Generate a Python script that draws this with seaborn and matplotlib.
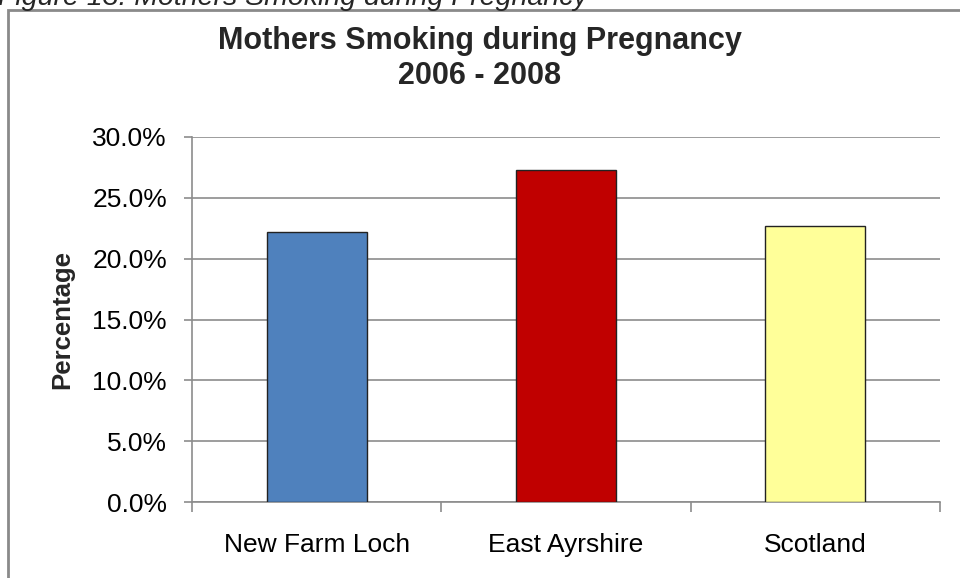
import matplotlib
matplotlib.use("Agg")
import matplotlib.pyplot as plt
import matplotlib.patches as mpatches
import seaborn as sns
import pandas as pd
from matplotlib.ticker import FuncFormatter, FixedLocator

# Data
categories = ["New Farm Loch", "East Ayrshire", "Scotland"]
values = [22.2, 27.3, 22.7]
bar_colors = ["#4F81BD", "#C00000", "#FFFF99"]
title_text = "Mothers Smoking during Pregnancy\n2006 - 2008"
caption_text = "Figure 13: Mothers Smoking during Pregnancy"
y_label = "Percentage"
y_ticks = [0, 5, 10, 15, 20, 25, 30]

sns.set_theme(style="white")
plt.rcParams['font.family'] = ['Liberation Sans', 'DejaVu Sans']

df = pd.DataFrame({"cat": categories, "val": values})

fig = plt.figure(figsize=(9.6, 5.78), dpi=100)
ax = fig.add_axes([192/960, 1-502/578, (940-192)/960, (502-137)/578])

sns.barplot(data=df, x="cat", y="val", hue="cat", palette=bar_colors,
            legend=False, width=0.4, edgecolor="#222222", linewidth=1.0,
            saturation=1, ax=ax, zorder=3)

ax.set_ylim(0, 30)
ax.set_xlim(-0.5, 2.5)
ax.set_yticks(y_ticks)
ax.yaxis.set_major_formatter(FuncFormatter(lambda v, p: f"{v:.1f}%"))
ax.grid(axis="y", color="#8c8c8c", linewidth=1.2, zorder=0)
ax.set_axisbelow(True)

for s in ["top", "right"]:
    ax.spines[s].set_visible(False)
for s in ["left", "bottom"]:
    ax.spines[s].set_color("#8c8c8c")
    ax.spines[s].set_linewidth(1.2)

ax.tick_params(axis="y", which="major", length=6, width=1.2, color="#8c8c8c",
               labelsize=19, pad=12, left=True, labelcolor="black")
ax.tick_params(axis="x", which="major", length=0, labelsize=19, pad=22,
               labelcolor="black")
ax.xaxis.set_minor_locator(FixedLocator([-0.5, 0.5, 1.5, 2.5]))
ax.tick_params(axis="x", which="minor", length=7, width=1.2, color="#8c8c8c",
               bottom=True)

ax.set_xlabel("")
ax.set_ylabel(y_label, fontsize=18.5, fontweight="bold")
ax.yaxis.set_label_coords(-0.158, 0.5)

fig.text(0.5, 1-26/578, title_text, ha="center", va="top",
         fontsize=22, fontweight="bold", linespacing=1.2)

fig.text(-2/960, 1-5/578, caption_text, ha="left", va="baseline",
         fontsize=20.5, fontstyle="italic")

frame = mpatches.Rectangle((8/960, -0.05), 1.1, 1 - 10/578 + 0.05,
                           transform=fig.transFigure, fill=False,
                           edgecolor="#8a8a8a", linewidth=2.0)
fig.patches.append(frame)

fig.savefig("out.png", dpi=100)
